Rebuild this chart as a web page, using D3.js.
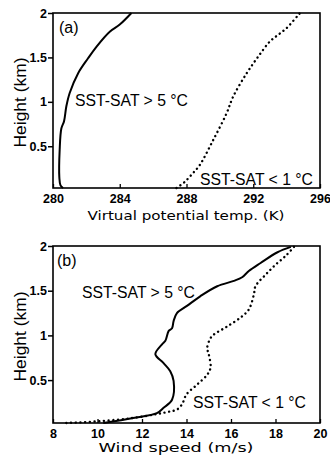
<!DOCTYPE html>
<html>
<head>
<meta charset="utf-8">
<script src="https://cdn.jsdelivr.net/npm/d3@7"></script>
<style>
  body { margin: 0; background: #fff; }
  svg { display: block; }
</style>
</head>
<body>
<svg id="svgID" width="330" height="462"></svg>
<script>
let svg = d3.select("#svgID");

//! DATA
let tempTicks = [280, 284, 288, 292, 296];
let windTicks = [8, 10, 12, 14, 16, 18, 20];
let heightTicks = [0.5, 1, 1.5, 2];

// panel (a): virtual potential temperature profiles
let warmTempHeight = [0.03, 0.06, 0.15, 0.46, 0.70, 0.78, 0.95, 1.10, 1.32, 1.49, 1.62, 1.79, 1.87, 2.0];
let warmTemp = [280.6, 280.45, 280.38, 280.4, 280.5, 280.66, 280.8, 281.0, 281.5, 282.1, 282.6, 283.4, 284.0, 284.7];
let coldTempHeight = [0.03, 0.1, 0.2, 0.29, 0.57, 0.87, 1.06, 1.32, 1.51, 1.68, 1.77, 1.83, 2.0];
let coldTemp = [287.4, 287.9, 288.4, 288.8, 289.6, 290.4, 290.8, 291.6, 292.3, 293.0, 293.6, 294.0, 294.8];

// panel (b): wind speed profiles
let warmWindHeight = [0.02, 0.077, 0.13, 0.19, 0.28, 0.49, 0.6, 0.69, 0.79, 0.9, 0.94, 1.05, 1.08, 1.16, 1.25, 1.33, 1.44, 1.55, 1.61, 1.65, 1.72, 1.81, 1.93, 1.99];
let warmWind = [10.26, 11.6, 12.67, 12.97, 13.35, 13.42, 13.27, 12.97, 12.6, 12.9, 13.05, 13.2, 13.35, 13.42, 13.57, 14.02, 14.63, 15.38, 16.13, 16.5, 16.8, 17.33, 18.09, 18.69];
let coldWindHeight = [0.02, 0.04, 0.077, 0.12, 0.15, 0.17, 0.23, 0.34, 0.45, 0.56, 0.64, 0.79, 0.86, 0.97, 1.01, 1.10, 1.2, 1.29, 1.46, 1.55, 1.68, 1.79, 1.89, 1.99];
let coldWind = [8.6, 10.1, 11.6, 12.67, 13.27, 13.57, 13.8, 14.0, 14.48, 14.93, 15.08, 15.0, 14.93, 15.08, 15.23, 15.83, 16.43, 16.8, 17.03, 17.1, 17.56, 18.0, 18.46, 18.83];

let warmLabel = "SST-SAT > 5 \u00B0C";
let coldLabel = "SST-SAT < 1 \u00B0C";

//? draws one panel
function panel(opt) {
    let x = d3.scaleLinear().domain(opt.xDomain).range([53, 320]);
    let y = d3.scaleLinear().domain([opt.yMin, 2]).range([opt.bottom, opt.top]);
    let g = svg.append("g");

    let line = d3.line()
        .x(d => x(d[0]))
        .y(d => y(d[1]))
        .curve(d3.curveCatmullRom);

    g.append("path")
        .datum(d3.zip(opt.warmX, opt.warmY))
        .attr("d", line)
        .attr("fill", "none")
        .attr("stroke", "black")
        .attr("stroke-width", 2);

    g.append("path")
        .datum(d3.zip(opt.coldX, opt.coldY))
        .attr("d", line)
        .attr("fill", "none")
        .attr("stroke", "black")
        .attr("stroke-width", 2.4)
        .attr("stroke-linecap", "round")
        .attr("stroke-dasharray", "0.1 4.6");

    // frame
    g.append("rect")
        .attr("x", 53).attr("y", opt.top)
        .attr("width", 267).attr("height", opt.bottom - opt.top)
        .attr("fill", "none")
        .attr("stroke", "black")
        .attr("stroke-width", 1.6);

    // bottom axis, ticks pointing inward
    let xAxis = g.append("g")
        .attr("transform", `translate(0,${opt.bottom})`)
        .call(d3.axisBottom(x).tickValues(opt.xTicks).tickSizeInner(-4).tickSizeOuter(0).tickPadding(6));
    xAxis.select(".domain").remove();
    xAxis.selectAll("line").attr("stroke-width", 1.3);
    xAxis.selectAll("text")
        .attr("font-family", "Liberation Sans, Arial, sans-serif")
        .attr("font-weight", "bold")
        .attr("font-size", 12.5)
        .attr("fill", "black");

    // left axis, ticks pointing outward
    let yAxis = g.append("g")
        .attr("transform", "translate(53,0)")
        .call(d3.axisLeft(y).tickValues(heightTicks).tickSize(5).tickPadding(1).tickFormat(d3.format("")));
    yAxis.select(".domain").remove();
    yAxis.selectAll("line").attr("stroke-width", 1.5);
    yAxis.selectAll("text")
        .attr("font-family", "Liberation Sans, Arial, sans-serif")
        .attr("font-weight", "bold")
        .attr("font-size", 12.5)
        .attr("fill", "black");

    // axis titles
    g.append("text")
        .attr("x", opt.titleX).attr("y", opt.titleY)
        .attr("text-anchor", "middle")
        .attr("font-family", "DejaVu Sans, sans-serif")
        .attr("font-size", 12)
        .attr("textLength", opt.titleLen)
        .attr("lengthAdjust", "spacingAndGlyphs")
        .text(opt.title);

    g.append("text")
        .attr("transform", `translate(26,${(opt.top + opt.bottom) / 2 + 2}) rotate(-90)`)
        .attr("text-anchor", "middle")
        .attr("font-family", "Liberation Sans, Arial, sans-serif")
        .attr("font-size", 16)
        .attr("textLength", 90)
        .attr("lengthAdjust", "spacingAndGlyphs")
        .text("Height (km)");

    g.append("text")
        .attr("x", opt.tag[0]).attr("y", opt.tag[1])
        .attr("font-family", "Liberation Sans, Arial, sans-serif")
        .attr("font-size", 16)
        .text(opt.tag[2]);

    // curve labels
    [[opt.warmPos, warmLabel], [opt.coldPos, coldLabel]].forEach(function (l) {
        g.append("text")
            .attr("x", l[0][0]).attr("y", l[0][1])
            .attr("font-family", "Liberation Sans, Arial, sans-serif")
            .attr("font-size", 16)
            .attr("textLength", 113)
            .attr("lengthAdjust", "spacingAndGlyphs")
            .text(l[1]);
    });
}

panel({
    xDomain: [280, 296], xTicks: tempTicks, yMin: 0.03, top: 13, bottom: 188,
    warmX: warmTemp, warmY: warmTempHeight, coldX: coldTemp, coldY: coldTempHeight,
    title: "Virtual potential temp. (K)", titleX: 186, titleY: 220, titleLen: 197,
    tag: [59, 33, "(a)"], warmPos: [75, 106], coldPos: [200, 185]
});

panel({
    xDomain: [8, 20], xTicks: windTicks, yMin: 0.02, top: 246, bottom: 423,
    warmX: warmWind, warmY: warmWindHeight, coldX: coldWind, coldY: coldWindHeight,
    title: "Wind speed (m/s)", titleX: 176, titleY: 452, titleLen: 155,
    tag: [57, 266, "(b)"], warmPos: [82, 298], coldPos: [193, 408]
});
</script>
</body>
</html>
